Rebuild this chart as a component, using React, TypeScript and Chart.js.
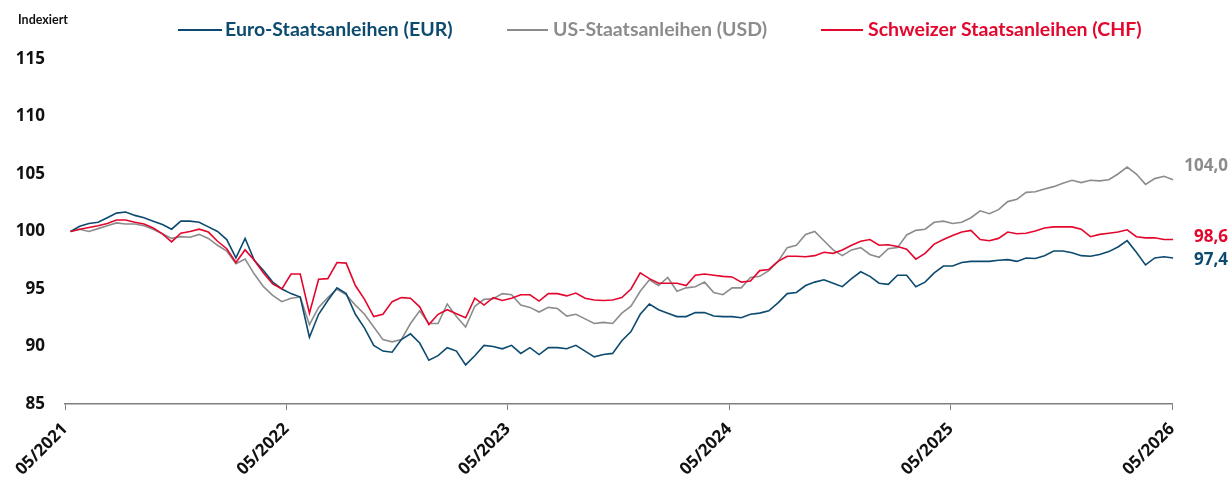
import React, { useEffect, useRef } from "react";
import { Chart, registerables } from "chart.js";

Chart.register(...registerables);

// Time grid: months since 05/2021, roughly half-monthly samples
const START_MONTH = 0.3;
const STEP_MONTH = 0.498;

const xTickLabels = ["05/2021", "05/2022", "05/2023", "05/2024", "05/2025", "05/2026"];
const xTickMonths = [0, 12, 24, 36, 48, 60];

const seriesNames = [
  "Euro-Staatsanleihen (EUR)",
  "US-Staatsanleihen (USD)",
  "Schweizer Staatsanleihen (CHF)",
];
const endLabels = ["97,4", "104,0", "98,6"];

const eur = [
  100.0, 100.45, 100.7, 100.8, 101.2, 101.6, 101.7, 101.4, 101.2, 100.9,
  100.6, 100.2, 100.9, 100.9, 100.8, 100.4, 100.0, 99.3, 97.7, 99.4,
  97.5, 96.6, 95.6, 95.0, 94.6, 94.3, 90.8, 92.8, 94.0, 95.1,
  94.6, 92.8, 91.6, 90.1, 89.6, 89.5, 90.6, 91.1, 90.3, 88.8,
  89.2, 89.9, 89.6, 88.4, 89.2, 90.1, 90.0, 89.8, 90.1, 89.4,
  89.9, 89.3, 89.9, 89.9, 89.8, 90.1, 89.6, 89.1, 89.3, 89.4,
  90.5, 91.3, 92.8, 93.7, 93.2, 92.9, 92.6, 92.6, 92.95, 92.95,
  92.65, 92.6, 92.6, 92.5, 92.8, 92.9, 93.1, 93.8, 94.6, 94.7,
  95.3, 95.6, 95.8, 95.5, 95.2, 95.9, 96.5, 96.1, 95.5, 95.4,
  96.2, 96.2, 95.2, 95.6, 96.4, 97.0, 97.0, 97.3, 97.4, 97.4,
  97.4, 97.5, 97.55, 97.4, 97.7, 97.65, 97.9, 98.3, 98.3, 98.15,
  97.9, 97.85, 98.0, 98.25, 98.65, 99.2, 98.2, 97.1, 97.7, 97.8,
  97.7,
];

const usd = [
  100.0, 100.2, 100.0, 100.25, 100.5, 100.75, 100.65, 100.65, 100.5, 100.2,
  99.8, 99.4, 99.55, 99.5, 99.75, 99.4, 98.8, 98.3, 97.2, 97.6,
  96.3, 95.2, 94.45, 93.9, 94.2, 94.3, 91.9, 93.4, 94.25, 95.0,
  94.5, 93.6, 92.8, 91.7, 90.6, 90.4, 90.6, 92.0, 93.1, 92.0,
  92.0, 93.7, 92.6, 91.7, 93.5, 94.1, 94.15, 94.6, 94.5, 93.6,
  93.4, 93.0, 93.4, 93.3, 92.65, 92.8, 92.4, 92.0, 92.1, 92.0,
  92.9, 93.5, 94.8, 95.8, 95.3, 96.0, 94.8, 95.1, 95.2, 95.6,
  94.7, 94.5, 95.1, 95.1, 96.0, 96.1, 96.6, 97.4, 98.6, 98.8,
  99.75, 100.0, 99.2, 98.4, 97.9, 98.4, 98.6, 98.0, 97.75, 98.5,
  98.6, 99.7, 100.1, 100.2, 100.8, 100.9, 100.7, 100.8, 101.2, 101.8,
  101.55, 101.9, 102.6, 102.8, 103.4, 103.45, 103.7, 103.9, 104.2, 104.45,
  104.25, 104.45, 104.4, 104.5, 105.0, 105.6, 105.0, 104.1, 104.6, 104.8,
  104.5,
];

const chf = [
  100.0, 100.2, 100.35, 100.5, 100.7, 101.0, 101.0, 100.8, 100.65, 100.3,
  99.8, 99.1, 99.85, 100.0, 100.2, 99.95, 99.15, 98.5, 97.3, 98.4,
  97.5, 96.4, 95.45, 95.0, 96.3, 96.3, 92.9, 95.85, 95.9, 97.3,
  97.25, 95.3, 94.1, 92.6, 92.8, 93.9, 94.25, 94.2, 93.45, 91.9,
  92.8, 93.2, 92.85, 92.5, 94.2, 93.6, 94.25, 94.0, 94.2, 94.5,
  94.5, 93.95, 94.6, 94.6, 94.4, 94.65, 94.2, 94.05, 94.0, 94.05,
  94.25, 95.0, 96.4, 95.9, 95.5, 95.5, 95.5, 95.3, 96.2, 96.3,
  96.2, 96.1, 96.05, 95.6, 95.7, 96.6, 96.7, 97.4, 97.85, 97.85,
  97.8, 97.9, 98.2, 98.1, 98.4, 98.8, 99.15, 99.3, 98.8, 98.85,
  98.7, 98.45, 97.6, 98.1, 98.9, 99.3, 99.65, 99.95, 100.1, 99.3,
  99.2, 99.4, 99.95, 99.8, 99.85, 100.05, 100.3, 100.4, 100.4, 100.4,
  100.2, 99.55, 99.75, 99.85, 99.95, 100.15, 99.55, 99.45, 99.45, 99.3,
  99.3,
];

const months = eur.map((_, i) => START_MONTH + STEP_MONTH * i);

const COLORS = ["#0d4a6f", "#8c8c8c", "#e3072d"];
const LEGEND_LAYOUT = [
  { x1: 178, x2: 222, tx: 225 },
  { x1: 507, x2: 548, tx: 553 },
  { x1: 821, x2: 863, tx: 868 },
];
const END_LABEL_OFFSETS = [2, -14, -2];

const overlayPlugin = {
  id: "overlay",
  afterDraw(chart: any) {
    const ctx = chart.ctx;
    ctx.save();
    // "Indexiert"
    ctx.fillStyle = "#111111";
    ctx.font = "bold 12.5px Lato";
    ctx.textAlign = "left";
    ctx.textBaseline = "middle";
    ctx.fillText("Indexiert", 18, 20);

    // legend
    seriesNames.forEach((name, i) => {
      const l = LEGEND_LAYOUT[i];
      ctx.strokeStyle = COLORS[i];
      ctx.lineWidth = 2;
      ctx.beginPath();
      ctx.moveTo(l.x1, 30);
      ctx.lineTo(l.x2, 30);
      ctx.stroke();
      ctx.fillStyle = COLORS[i];
      ctx.font = "bold 19.5px Lato";
      ctx.textAlign = "left";
      ctx.textBaseline = "middle";
      ctx.fillText(name, l.tx, 30);
    });

    // end labels
    endLabels.forEach((txt, i) => {
      const meta = chart.getDatasetMeta(i);
      const last = meta.data[meta.data.length - 1];
      if (!last) return;
      ctx.fillStyle = COLORS[i];
      ctx.font = "bold 17px 'Open Sans'";
      ctx.textAlign = "right";
      ctx.textBaseline = "middle";
      ctx.fillText(txt, 1228, last.y + END_LABEL_OFFSETS[i]);
    });
    ctx.restore();
  },
};

export default function App() {
  const canvasRef = useRef<HTMLCanvasElement | null>(null);

  useEffect(() => {
    const canvas = canvasRef.current;
    if (!canvas) return;
    const makeData = (vals: number[]) => months.map((m, i) => ({ x: m, y: vals[i] }));
    const chart = new Chart(canvas, {
      type: "line",
      data: {
        datasets: [
          {
            label: seriesNames[0],
            data: makeData(eur),
            borderColor: COLORS[0],
            borderWidth: 1.6,
            pointRadius: 0,
            tension: 0,
            order: 1,
            clip: false,
          },
          {
            label: seriesNames[1],
            data: makeData(usd),
            borderColor: COLORS[1],
            borderWidth: 1.6,
            pointRadius: 0,
            tension: 0,
            order: 2,
            clip: false,
          },
          {
            label: seriesNames[2],
            data: makeData(chf),
            borderColor: COLORS[2],
            borderWidth: 1.6,
            pointRadius: 0,
            tension: 0,
            order: 0,
            clip: false,
          },
        ],
      },
      options: {
        animation: false,
        responsive: false,
        devicePixelRatio: 1,
        layout: { padding: { top: 59, right: 60, left: 0, bottom: 0 } },
        plugins: {
          legend: { display: false },
          tooltip: { enabled: false },
        },
        scales: {
          x: {
            type: "linear",
            min: 0,
            max: 60,
            afterBuildTicks: (scale: any) => {
              scale.ticks = xTickMonths.map((v) => ({ value: v }));
            },
            afterFit: (scale: any) => {
              scale.height = 75;
            },
            ticks: {
              autoSkip: false,
              maxRotation: 45,
              minRotation: 45,
              padding: 9,
              color: "#111111",
              font: { family: "'Open Sans'", weight: "bold", size: 17 },
              callback: (v: any) => {
                const idx = xTickMonths.indexOf(Number(v));
                return idx >= 0 ? xTickLabels[idx] : "";
              },
            },
            grid: {
              display: true,
              drawOnChartArea: false,
              drawTicks: true,
              tickLength: 6,
              color: "#7f7f7f",
              lineWidth: 1,
            },
            border: { display: true, color: "#7f7f7f", width: 1.5 },
          },
          y: {
            min: 85,
            max: 115,
            afterFit: (scale: any) => {
              scale.width = 65;
            },
            ticks: {
              stepSize: 5,
              padding: 20,
              color: "#111111",
              font: { family: "'Open Sans'", weight: "bold", size: 17 },
            },
            grid: { display: false, drawTicks: false },
            border: { display: false },
          },
        },
      },
      plugins: [overlayPlugin],
    });
    return () => chart.destroy();
  }, []);

  return (
    <div style={{ position: "fixed", left: 0, top: 0, width: 1232, height: 479, background: "#ffffff" }}>
      <canvas ref={canvasRef} width={1232} height={479} style={{ display: "block" }} />
    </div>
  );
}
